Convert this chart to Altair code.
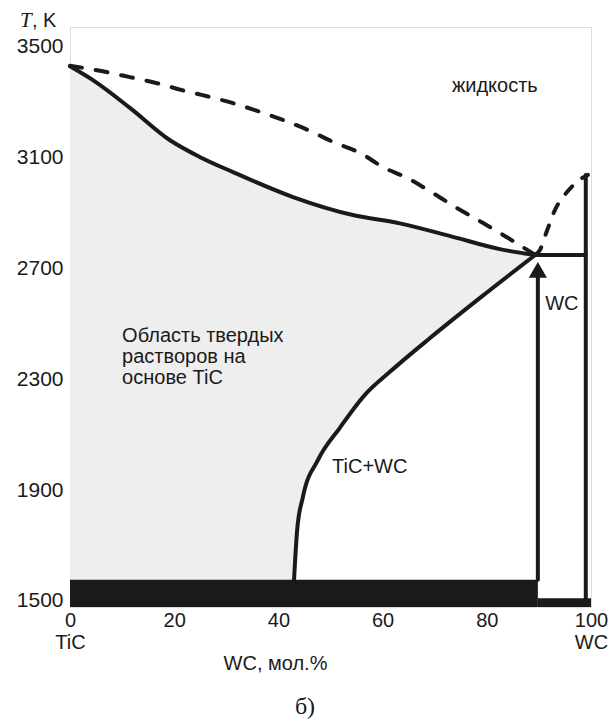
import altair as alt
import pandas as pd

# ---- data (x: WC, mol.%; T: K) ----
solidus_x = [0, 4.4, 11.5, 19.2, 25.0, 31.3, 42.8, 54.3, 63.3, 73.0, 82.5, 89.3]
solidus_T = [3430, 3380, 3280, 3163, 3102, 3048, 2958, 2893, 2863, 2817, 2770, 2749]

liquidus_x = [0, 6.3, 11.5, 16.7, 21.5, 26.3, 31.3, 36.1, 40.9, 45.7, 50.5,
              55.7, 60.1, 64.7, 69.7, 74.3, 79.3, 84.1, 89.3]
liquidus_T = [3432, 3412, 3391, 3369, 3344, 3322, 3297, 3268, 3236, 3200, 3157,
              3117, 3066, 3027, 2972, 2918, 2864, 2810, 2749]

wc_liq_x = [89.3, 90.2, 91.6, 93.1, 95.4, 97.5, 99.4]
wc_liq_T = [2749, 2767, 2839, 2912, 2976, 3016, 3038]

solvus_x = [43.0, 43.6, 44.7, 47.6, 51.8, 56.6, 61.4, 69.1, 78.7, 89.3]
solvus_T = [1576, 1756, 1875, 2009, 2125, 2244, 2327, 2449, 2594, 2749]

eutectic_x = [89.3, 99.0]
eutectic_T = [2749, 2749]

wc_edge_x = [99.0, 99.0]
wc_edge_T = [3038, 1510]

band_x = [0, 89.8]
band_T = [1478, 1576]
strip_x = [89.8, 100]
strip_T = [1478, 1510]

arrow_x = [89.8, 89.8]
arrow_T = [1576, 2670]
arrow_head_T = 2695

x_ticks = [0, 20, 40, 60, 80, 100]
y_ticks = [1500, 1900, 2300, 2700, 3100, 3500]

labels_text = ["жидкость", "Область твердых", "растворов на", "основе TiC", "TiC+WC", "WC"]
labels_x = [73.3, 10.0, 10.0, 10.0, 50.3, 91.2]
labels_T = [3337, 2435, 2359, 2283, 1962, 2550]

X_DOM = [0, 100]
Y_DOM = [1478, 3572]

xs = alt.Scale(domain=X_DOM, nice=False, zero=False)
ys = alt.Scale(domain=Y_DOM, nice=False, zero=False)

xax = alt.Axis(values=x_ticks, title="WC, мол.%",
               labelExpr="datum.value == 0 ? ['0', 'TiC'] : datum.value == 100 ? ['100', 'WC'] : datum.label",
               labelFont="Liberation Sans", labelFontSize=20, labelColor="#1a1a1a",
               labelLineHeight=22, labelPadding=3, ticks=False, domain=False, grid=False,
               labelFlush=False, labelOverlap=False,
               titleFont="Liberation Sans", titleFontSize=20, titleFontWeight="normal",
               titleColor="#1a1a1a", titleX=205, titleY=62, titleBaseline="alphabetic",
               titleAlign="center")
yax = alt.Axis(values=y_ticks, format="d", title=None, labelFont="Liberation Sans", labelFontSize=21,
               labelColor="#1a1a1a", labelPadding=7, ticks=False, domain=False, grid=False,
               labelFlush=False, labelOverlap=False)

X = lambda f: alt.X(f, type="quantitative", scale=xs, axis=xax)
Y = lambda f: alt.Y(f, type="quantitative", scale=ys, axis=yax)

df = lambda xv, tv: pd.DataFrame({"x": xv, "T": tv})

shade = alt.Chart(df(solidus_x, solidus_T)).mark_area(color="#eeeeee", interpolate="monotone").encode(
    x=X("x"), y=Y("T"), y2=alt.datum(1576))
unshade = alt.Chart(df(solvus_x, solvus_T)).mark_area(color="white", interpolate="monotone").encode(
    x=X("x"), y=Y("T"), y2=alt.datum(1576))

band = alt.Chart(pd.DataFrame({"x": [band_x[0]], "x2": [band_x[1]], "T": [band_T[0]], "T2": [band_T[1]]})
                 ).mark_rect(color="#1a1a1a").encode(x=X("x"), x2="x2", y=Y("T"), y2="T2")
strip = alt.Chart(pd.DataFrame({"x": [strip_x[0]], "x2": [strip_x[1]], "T": [strip_T[0]], "T2": [strip_T[1]]})
                  ).mark_rect(color="#1a1a1a").encode(x=X("x"), x2="x2", y=Y("T"), y2="T2")

def line(xv, tv, **kw):
    d = df(xv, tv)
    d["o"] = range(len(d))
    return alt.Chart(d).mark_line(color="#1a1a1a", strokeWidth=4, strokeCap="round", **kw).encode(
        x=X("x"), y=Y("T"), order="o:Q")

solidus = line(solidus_x, solidus_T, interpolate="monotone")
liquidus = line(liquidus_x, liquidus_T, strokeDash=[12, 14], interpolate="monotone")
wc_liq = line(wc_liq_x, wc_liq_T, strokeDash=[10, 13], interpolate="monotone")
solvus = line(solvus_x, solvus_T, interpolate="monotone")
eutectic = line(eutectic_x, eutectic_T)
wc_edge = line(wc_edge_x, wc_edge_T)
arrow = line(arrow_x, arrow_T)
head = alt.Chart(pd.DataFrame({"x": [arrow_x[0]], "T": [arrow_head_T]})).mark_point(
    shape="triangle-up", filled=True, size=330, color="#1a1a1a", opacity=1).encode(x=X("x"), y=Y("T"))

texts = alt.Chart(pd.DataFrame({"x": labels_x, "T": labels_T, "t": labels_text})).mark_text(
    font="Liberation Sans", fontSize=20, color="#1a1a1a", align="left", baseline="alphabetic").encode(
    x=X("x"), y=Y("T"), text="t:N")

tk_T = alt.Chart(pd.DataFrame({"x": [-9.6], "T": [3572], "t": ["T"]})).mark_text(
    font="Liberation Serif", fontStyle="italic", fontSize=21, color="#1a1a1a", align="left",
    baseline="alphabetic", clip=False).encode(x=X("x"), y=Y("T"), text="t:N")
tk_K = alt.Chart(pd.DataFrame({"x": [-7.3], "T": [3572], "t": [", K"]})).mark_text(
    font="Liberation Sans", fontSize=20, color="#1a1a1a", align="left",
    baseline="alphabetic", clip=False).encode(x=X("x"), y=Y("T"), text="t:N")
sub = alt.Chart(pd.DataFrame({"x": [45.1], "T": [1118], "t": ["б)"]})).mark_text(
    font="Liberation Serif", fontSize=24, color="#1a1a1a", align="center",
    baseline="middle", clip=False).encode(x=X("x"), y=Y("T"), text="t:N")

chart = alt.layer(shade, unshade, band, strip, solidus, liquidus, wc_liq, solvus, eutectic,
                  wc_edge, arrow, head, texts, tk_T, tk_K, sub).properties(
    width=521, height=580,
    autosize=alt.AutoSizeParams(type="none"),
    padding={"left": 70, "top": 27, "right": 21, "bottom": 113},
).configure_view(stroke="#1a1a1a", strokeWidth=5).configure(background="white")

chart.save("out.html", embed_options={"renderer": "svg", "actions": False})
